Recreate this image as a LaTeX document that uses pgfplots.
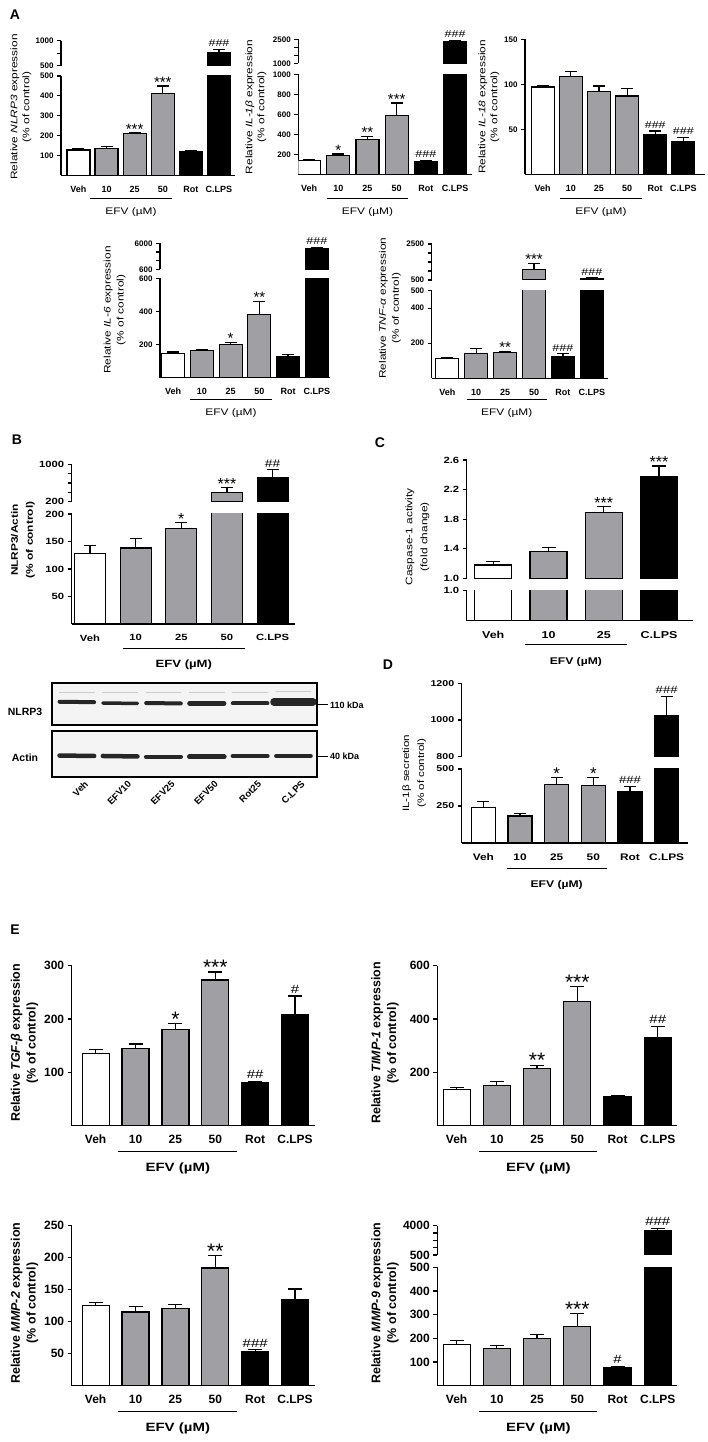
\documentclass[border=0pt]{standalone}
\usepackage{pgfplots}
\pgfplotsset{compat=1.18}
\usepackage{fontspec}
\setmainfont{Liberation Sans}
\newfontfamily\widef[FakeStretch=1.25]{Liberation Sans}
\definecolor{bargray}{RGB}{160,160,164}
\newcommand{\fs}[2]{\fontsize{#1}{#2}\selectfont}
\pgfplotsset{
  prism/.style={scale only axis, anchor=south west, axis lines*=left,
    axis line style={line width=1.3pt,-}, tick style={line width=1.2pt,black},
    tick align=outside, major tick length=4pt, minor tick length=4pt,
    major x tick style={draw=none},
    /pgf/number format/assume math mode=true, /pgf/number format/1000 sep={},
    xtick={0,...,5}, xticklabels={Veh,10,25,50,Rot,C.LPS}},
  upper/.style={prism, axis x line=none, axis y line*=left, xtick=\empty},
  sA/.style={yticklabel style={font=\fs{8}{9}\bfseries}, xticklabel style={font=\fs{9}{10}\bfseries, yshift=-3pt}},
  sB/.style={yticklabel style={font=\fs{9}{10}\widef\bfseries}, xticklabel style={font=\fs{9}{10}\widef\bfseries, yshift=-3pt}},
  sC/.style={yticklabel style={font=\fs{9}{10}\widef\bfseries}, xticklabel style={font=\fs{10}{11}\widef\bfseries, yshift=-3pt}},
  sD/.style={yticklabel style={font=\fs{8.5}{10}\widef\bfseries}, xticklabel style={font=\fs{9.5}{10}\widef\bfseries, yshift=-3pt}},
  sE/.style={yticklabel style={font=\fs{12}{13}\bfseries}, xticklabel style={font=\fs{12}{13}\bfseries, yshift=-2pt}},
  bar/.style={ybar, bar shift=0pt, draw=black, line width=1.2pt,
     error bars/y dir=plus, error bars/y explicit,
     error bars/error bar style={line width=1.2pt, black},
     error bars/error mark options={rotate=90, line width=1.2pt, mark size=#1}},
  bar/.default=6pt,
  star/.style 2 args={draw=none, mark=none, nodes near coords, point meta=explicit symbolic,
     nodes near coords style={anchor=base, yshift=#2, font=\fs{#1}{#1}, inner sep=0pt, black}},
  hash/.style 2 args={draw=none, mark=none, nodes near coords, point meta=explicit symbolic,
     nodes near coords style={anchor=south, yshift=2.5pt, font=\fs{#1}{#1}#2, inner sep=0pt, black}},
  blot/.style={scale only axis, anchor=south west, xmin=-0.58, xmax=5.55, ymin=0, ymax=1,
     ytick=\empty, axis background/.style={fill=gray!9}, axis line style={line width=1.8pt}, clip=true},
  band/.style={line width=#1, black!85, line cap=round},
}
% bars: #1 width, #2 cap half size, #3 white, #4 gray, #5 black
\newcommand{\bars}[5]{%
 \addplot[bar=#2, bar width=#1, fill=white] coordinates {#3};
 \addplot[bar=#2, bar width=#1, fill=bargray] coordinates {#4};
 \addplot[bar=#2, bar width=#1, fill=black] coordinates {#5};}
\newcommand{\efv}[5]{\draw[line width=1pt] (#1pt,#3pt) -- (#2pt,#3pt); \node[font=#5] at ({(#1+#2)/2*1pt},{(#3-#4)*1pt}) {EFV (µM)};}
\begin{document}
\begin{tikzpicture}
\path[use as bounding box] (0,0) rectangle (708pt,1442pt);
% ---------------- A1 NLRP3
\begin{axis}[prism, sA, at={(61pt,1266.5pt)}, width=174pt, height=99.5pt, xmin=-0.62, xmax=5.57, ymin=0, ymax=500, ytick={100,200,300,400,500}]
\bars{23pt}{6pt}{(0,128) +- (0,8)}{(1,137) +- (0,7) (2,210) +- (0,5) (3,412) +- (0,38)}{(4,122) +- (0,4) (5,760) +- (0,65)}
\addplot[star={15}{-1.5pt}] coordinates {(2,215) [***] (3,450) [***]};
\end{axis}
\begin{axis}[upper, sA, at={(61pt,1376.3pt)}, width=174pt, height=25pt, xmin=-0.62, xmax=5.57, ymin=500, ymax=1000, ytick={500,1000}, minor ytick={750}]
\addplot[bar=6pt, bar width=23pt, fill=black] coordinates {(5,760) +- (0,65)};
\addplot[hash={10}{\widef}] coordinates {(5,825) [\#\#\#]};
\end{axis}
% ---------------- A2 IL-1b
\begin{axis}[prism, sA, at={(298.3pt,1267.7pt)}, width=173.7pt, height=100pt, xmin=-0.37, xmax=5.58, ymin=0, ymax=1000, ytick={200,400,600,800,1000}]
\bars{23pt}{6pt}{(0,140) +- (0,8)}{(1,188) +- (0,15) (2,345) +- (0,35) (3,585) +- (0,128)}{(4,130) +- (0,10) (5,2350) +- (0,90)}
\addplot[star={15}{-1.5pt}] coordinates {(1,203) [*] (2,380) [**] (3,713) [***]};
\addplot[hash={10}{\widef}] coordinates {(4,140) [\#\#\#]};
\end{axis}
\begin{axis}[upper, sA, at={(298.3pt,1378.7pt)}, width=173.7pt, height=24pt, xmin=-0.37, xmax=5.58, ymin=1000, ymax=2500, ytick={1000,2500}, minor ytick={1500,2000}]
\addplot[bar=6pt, bar width=23pt, fill=black] coordinates {(5,2350) +- (0,90)};
\addplot[hash={10}{\widef}] coordinates {(5,2440) [\#\#\#]};
\end{axis}
% ---------------- A3 IL-18
\begin{axis}[prism, sA, at={(525pt,1267.7pt)}, width=180pt, height=135pt, xmin=-0.63, xmax=5.77, ymin=0, ymax=150, ytick={50,100,150}]
\bars{23pt}{6pt}{(0,97) +- (0,1)}{(1,109) +- (0,5) (2,92) +- (0,6) (3,87) +- (0,8)}{(4,44) +- (0,4) (5,36) +- (0,5)}
\addplot[hash={10}{\widef}] coordinates {(4,48) [\#\#\#] (5,41) [\#\#\#]};
\end{axis}
% ---------------- A4 IL-6
\begin{axis}[prism, sA, at={(160pt,1064.3pt)}, width=170pt, height=99.4pt, xmin=-0.46, xmax=5.46, ymin=0, ymax=600, ytick={200,400,600}]
\bars{23pt}{6pt}{(0,145) +- (0,10)}{(1,162) +- (0,10) (2,202) +- (0,12) (3,380) +- (0,82)}{(4,125) +- (0,15) (5,4800) +- (0,300)}
\addplot[star={15}{-1.5pt}] coordinates {(2,214) [*] (3,462) [**]};
\end{axis}
\begin{axis}[upper, sA, at={(160pt,1172.7pt)}, width=170pt, height=26pt, xmin=-0.46, xmax=5.46, ymin=600, ymax=6000, ytick={600,6000}, minor ytick={2400,4200}]
\addplot[bar=6pt, bar width=23pt, fill=black] coordinates {(5,4800) +- (0,300)};
\addplot[hash={10}{\widef}] coordinates {(5,5100) [\#\#\#]};
\end{axis}
% ---------------- A5 TNF
\begin{axis}[prism, sA, at={(431.7pt,1063.7pt)}, width=176.3pt, height=87.6pt, xmin=-0.54, xmax=5.56, ymin=0, ymax=500, ytick={200,400,500}]
\bars{23pt}{6pt}{(0,115) +- (0,5)}{(1,140) +- (0,28) (2,148) +- (0,6) (3,1100) +- (0,330)}{(4,125) +- (0,15) (5,590) +- (0,25)}
\addplot[star={15}{-1.5pt}] coordinates {(2,154) [**]};
\addplot[hash={10}{\widef}] coordinates {(4,140) [\#\#\#]};
\end{axis}
\begin{axis}[upper, sA, at={(431.7pt,1162pt)}, width=176.3pt, height=36pt, xmin=-0.54, xmax=5.56, ymin=500, ymax=2500, ytick={500,2500}, minor ytick={1000,1500,2000}]
\addplot[bar=6pt, bar width=23pt, fill=bargray] coordinates {(3,1100) +- (0,330)};
\addplot[bar=6pt, bar width=23pt, fill=black] coordinates {(5,590) +- (0,25)};
\addplot[star={15}{-1.5pt}] coordinates {(3,1430) [***]};
\addplot[hash={10}{\widef}] coordinates {(5,615) [\#\#\#]};
\end{axis}
% ---------------- B
\begin{axis}[prism, sB, at={(71.7pt,818pt)}, width=223.3pt, height=110pt, xmin=-0.4, xmax=4.49, ymin=0, ymax=200, ytick={50,100,150,200}, xtick={0,...,4}, xticklabels={Veh,10,25,50,C.LPS}]
\bars{31pt}{6pt}{(0,128) +- (0,14)}{(1,138) +- (0,18) (2,174) +- (0,10) (3,390) +- (0,105)}{(4,720) +- (0,160)}
\addplot[star={16}{-1.8pt}] coordinates {(2,184) [*]};
\end{axis}
\begin{axis}[upper, sB, at={(71.7pt,940.3pt)}, width=223.3pt, height=37.4pt, xmin=-0.4, xmax=4.49, ymin=200, ymax=1000, ytick={200,1000}, minor ytick={400,600,800}]
\addplot[bar=6pt, bar width=31pt, fill=bargray] coordinates {(3,390) +- (0,105)};
\addplot[bar=6pt, bar width=31pt, fill=black] coordinates {(4,720) +- (0,160)};
\addplot[star={16}{-1.8pt}] coordinates {(3,495) [***]};
\addplot[hash={11}{\widef}] coordinates {(4,880) [\#\#]};
\end{axis}
% ---------------- Blot
\begin{axis}[blot, at={(51.7pt,716.7pt)}, width=265.6pt, height=42pt, xtick=\empty]
\addplot[band=1.5pt, gray!40] coordinates {(-0.4,0.78) (0.4,0.78)};
\addplot[band=1.5pt, gray!40] coordinates {(0.6,0.78) (1.4,0.78)};
\addplot[band=1.5pt, gray!40] coordinates {(1.6,0.78) (2.4,0.78)};
\addplot[band=1.5pt, gray!40] coordinates {(2.6,0.78) (3.4,0.78)};
\addplot[band=1.5pt, gray!40] coordinates {(3.6,0.78) (4.4,0.78)};
\addplot[band=1.5pt, gray!40] coordinates {(4.6,0.8) (5.4,0.8)};
\addplot[band=4pt] coordinates {(-0.4,0.56) (0.4,0.55)};
\addplot[band=3.5pt] coordinates {(0.6,0.53) (1.4,0.52)};
\addplot[band=4pt] coordinates {(1.6,0.53) (2.4,0.52)};
\addplot[band=4.5pt] coordinates {(2.6,0.52) (3.4,0.52)};
\addplot[band=4pt] coordinates {(3.6,0.52) (4.4,0.52)};
\addplot[band=7.5pt] coordinates {(4.55,0.56) (5.45,0.56)};
\end{axis}
\begin{axis}[blot, at={(51.7pt,665.3pt)}, width=265.6pt, height=46pt, xtick={0,...,5}, xticklabels={Veh,EFV10,EFV25,EFV50,Rot25,C.LPS}, major x tick style={draw=none}, xticklabel style={rotate=45, anchor=north east, font=\fs{9.5}{10}\bfseries, yshift=-4pt, xshift=6pt}]
\addplot[band=4.5pt] coordinates {(-0.4,0.46) (0.4,0.45)};
\addplot[band=4.5pt] coordinates {(0.6,0.45) (1.4,0.44)};
\addplot[band=4.5pt] coordinates {(1.6,0.43) (2.4,0.43)};
\addplot[band=5pt] coordinates {(2.6,0.43) (3.4,0.43)};
\addplot[band=4.5pt] coordinates {(3.6,0.45) (4.4,0.45)};
\addplot[band=4pt] coordinates {(4.6,0.45) (5.4,0.45)};
\end{axis}
% ---------------- C
\begin{axis}[upper, sC, at={(466.7pt,863.7pt)}, width=226.6pt, height=118.3pt, xmin=-0.48, xmax=3.62, ymin=1, ymax=2.6, ytick={1,1.4,1.8,2.2,2.6}, yticklabel style={/pgf/number format/fixed, /pgf/number format/fixed zerofill, /pgf/number format/precision=1}]
\bars{37pt}{7pt}{(0,1.18) +- (0,0.05)}{(1,1.36) +- (0,0.06) (2,1.89) +- (0,0.08)}{(3,2.38) +- (0,0.14)}
\addplot[star={16}{-1.8pt}] coordinates {(2,1.97) [***] (3,2.52) [***]};
\end{axis}
\begin{axis}[prism, sC, at={(466.7pt,821.3pt)}, width=226.6pt, height=30pt, xmin=-0.48, xmax=3.62, ymin=0, ymax=1, ytick={1}, yticklabel style={/pgf/number format/fixed, /pgf/number format/fixed zerofill, /pgf/number format/precision=1}, xtick={0,...,3}, xticklabels={Veh,10,25,C.LPS}]
\bars{37pt}{7pt}{(0,1.18) +- (0,0.05)}{(1,1.36) +- (0,0.06) (2,1.89) +- (0,0.08)}{(3,2.38) +- (0,0.14)}
\end{axis}
% ---------------- D
\begin{axis}[prism, sD, at={(461.7pt,599pt)}, width=226.6pt, height=74pt, xmin=-0.59, xmax=5.59, ymin=0, ymax=500, ytick={250,500}]
\bars{24pt}{6pt}{(0,238) +- (0,40)}{(1,183) +- (0,15) (2,395) +- (0,45) (3,390) +- (0,52)}{(4,345) +- (0,38) (5,1025) +- (0,105)}
\addplot[star={17}{-2pt}] coordinates {(2,440) [*] (3,442) [*]};
\addplot[hash={10.5}{\widef}] coordinates {(4,383) [\#\#\#]};
\end{axis}
\begin{axis}[upper, sD, at={(461.7pt,685.3pt)}, width=226.6pt, height=73.4pt, xmin=-0.59, xmax=5.59, ymin=800, ymax=1200, ytick={800,1000,1200}]
\addplot[bar=6pt, bar width=24pt, fill=black] coordinates {(5,1025) +- (0,105)};
\addplot[hash={10.5}{\widef}] coordinates {(5,1130) [\#\#\#]};
\end{axis}
% ---------------- E1 TGF
\begin{axis}[prism, sE, at={(71.7pt,316.3pt)}, width=243.3pt, height=160pt, xmin=-0.6, xmax=5.5, ymin=0, ymax=300, ytick={100,200,300}]
\bars{27pt}{7pt}{(0,135) +- (0,8)}{(1,145) +- (0,8) (2,181) +- (0,10) (3,273) +- (0,15)}{(4,80) +- (0,3) (5,208) +- (0,35)}
\addplot[star={21}{-2.8pt}] coordinates {(2,191) [*] (3,288) [***]};
\addplot[hash={12}{\widef}] coordinates {(4,83) [\#\#] (5,243) [\#]};
\end{axis}
% ---------------- E2 TIMP
\begin{axis}[prism, sE, at={(437.3pt,316.3pt)}, width=239.4pt, height=160pt, xmin=-0.48, xmax=5.47, ymin=0, ymax=600, ytick={200,400,600}]
\bars{27pt}{7pt}{(0,137) +- (0,6)}{(1,152) +- (0,14) (2,215) +- (0,12) (3,465) +- (0,58)}{(4,108) +- (0,5) (5,332) +- (0,40)}
\addplot[star={21}{-2.8pt}] coordinates {(2,227) [**] (3,523) [***]};
\addplot[hash={12}{\widef}] coordinates {(5,372) [\#\#]};
\end{axis}
% ---------------- E3 MMP2
\begin{axis}[prism, sE, at={(71.7pt,56.3pt)}, width=243.3pt, height=160pt, xmin=-0.6, xmax=5.5, ymin=0, ymax=250, ytick={50,100,150,200,250}]
\bars{27pt}{7pt}{(0,125) +- (0,5)}{(1,115) +- (0,9) (2,121) +- (0,6) (3,184) +- (0,19)}{(4,54) +- (0,2) (5,134) +- (0,17)}
\addplot[star={21}{-2.8pt}] coordinates {(3,203) [**]};
\addplot[hash={12}{\widef}] coordinates {(4,56) [\#\#\#]};
\end{axis}
% ---------------- E4 MMP9
\begin{axis}[prism, sE, at={(437.3pt,56.3pt)}, width=239.4pt, height=118.3pt, xmin=-0.48, xmax=5.47, ymin=0, ymax=500, ytick={100,200,300,400,500}]
\bars{27pt}{7pt}{(0,174) +- (0,16)}{(1,157) +- (0,13) (2,198) +- (0,17) (3,251) +- (0,54)}{(4,75) +- (0,7) (5,3360) +- (0,320)}
\addplot[star={21}{-2.8pt}] coordinates {(3,305) [***]};
\addplot[hash={12}{\widef}] coordinates {(4,82) [\#]};
\end{axis}
\begin{axis}[upper, sE, at={(437.3pt,187pt)}, width=239.4pt, height=29.3pt, xmin=-0.48, xmax=5.47, ymin=500, ymax=4000, ytick={500,4000}, minor ytick={1375,2250,3125}]
\addplot[bar=7pt, bar width=27pt, fill=black] coordinates {(5,3360) +- (0,320)};
\addplot[hash={12}{\widef}] coordinates {(5,3680) [\#\#\#]};
\end{axis}
% ---------------- text
\node[font=\fs{14}{14}\bfseries] at (15pt,1427pt) {A};
\node[font=\fs{14}{14}\bfseries] at (17pt,1002pt) {B};
\node[font=\fs{14}{14}\bfseries] at (380pt,999pt) {C};
\node[font=\fs{14}{14}\bfseries] at (388pt,777pt) {D};
\node[font=\fs{14}{14}\bfseries] at (15pt,512pt) {E};
\node[rotate=90, align=center, font=\fs{9.5}{12}\widef] at (21pt,1335pt) {Relative \textit{NLRP3} expression\\(\% of control)};
\node[rotate=90, align=center, font=\fs{9.5}{12}\widef] at (256pt,1335pt) {Relative \textit{IL-1β} expression\\(\% of control)};
\node[rotate=90, align=center, font=\fs{9.5}{12}\widef] at (489pt,1335pt) {Relative \textit{IL-18} expression\\(\% of control)};
\node[rotate=90, align=center, font=\fs{9.5}{13}\widef] at (114.7pt,1132pt) {Relative \textit{IL-6} expression\\(\% of control)};
\node[rotate=90, align=center, font=\fs{9.5}{13}\widef] at (390pt,1133.7pt) {Relative \textit{TNF-α} expression\\(\% of control)};
\node[rotate=90, align=center, font=\fs{9.5}{15}\widef\bfseries] at (23pt,902pt) {NLRP3/Actin\\(\% of control)};
\node[rotate=90, align=center, font=\fs{9.5}{15}\widef] at (417.5pt,905.3pt) {Caspase-1 activity\\(fold change)};
\node[rotate=90, align=center, font=\fs{9.3}{15}\widef] at (414.2pt,668.7pt) {IL-1β secretion\\(\% of control)};
\node[rotate=90, align=center, font=\fs{12.5}{15.6}\bfseries] at (24.5pt,399pt) {Relative \textit{TGF-β} expression\\(\% of control)};
\node[rotate=90, align=center, font=\fs{12.5}{15.6}\bfseries] at (385pt,399pt) {Relative \textit{TIMP-1} expression\\(\% of control)};
\node[rotate=90, align=center, font=\fs{12.5}{15.6}\bfseries] at (24.5pt,139pt) {Relative \textit{MMP-2} expression\\(\% of control)};
\node[rotate=90, align=center, font=\fs{12.5}{15.6}\bfseries] at (385pt,139pt) {Relative \textit{MMP-9} expression\\(\% of control)};
\efv{90}{172}{1243}{13}{\fs{9.5}{10}\widef}
\efv{327}{408}{1243}{13}{\fs{9.5}{10}\widef}
\efv{560}{642}{1243}{13}{\fs{9.5}{10}\widef}
\efv{190}{272}{1042}{12.7}{\fs{9.5}{10}\widef}
\efv{466.7}{546.7}{1042}{12.7}{\fs{9.5}{10}\widef}
\efv{122.7}{245}{793.7}{16.7}{\fs{10.5}{11}\widef\bfseries}
\efv{525}{626.7}{797}{16.7}{\fs{9.7}{11}\widef\bfseries}
\efv{506.7}{606.7}{573}{16}{\fs{9.7}{11}\widef\bfseries}
\efv{118.3}{237.3}{290.3}{16.6}{\fs{12}{13}\widef\bfseries}
\efv{479.3}{597.3}{290.3}{16.6}{\fs{12}{13}\widef\bfseries}
\efv{118.3}{237.3}{30.3}{16.6}{\fs{12}{13}\widef\bfseries}
\efv{479.3}{597.3}{30.3}{16.6}{\fs{12}{13}\widef\bfseries}
\node[font=\fs{10.5}{11}\bfseries] at (25pt,730.3pt) {NLRP3};
\node[font=\fs{10.5}{11}\bfseries] at (25pt,684pt) {Actin};
\draw[line width=1pt] (317pt,737pt) -- (328pt,737pt);
\node[font=\fs{9}{10}\bfseries, anchor=west, inner sep=1pt] at (329pt,737pt) {110 kDa};
\draw[line width=1pt] (317pt,685.3pt) -- (328pt,685.3pt);
\node[font=\fs{9}{10}\bfseries, anchor=west, inner sep=1pt] at (329pt,685.3pt) {40 kDa};
\end{tikzpicture}
\end{document}
